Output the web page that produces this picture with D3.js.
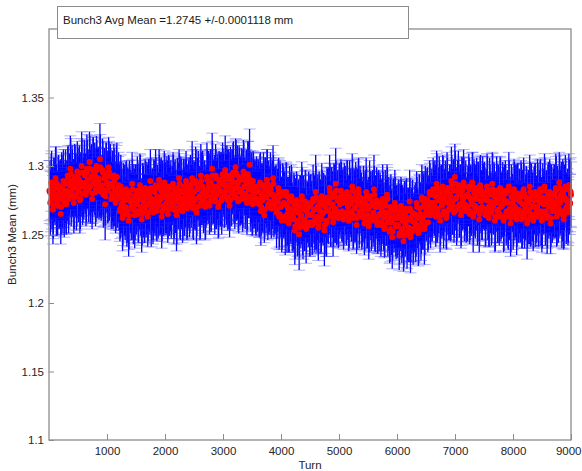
<!DOCTYPE html>
<html>
<head>
<meta charset="utf-8">
<script src="https://cdn.jsdelivr.net/npm/d3@7"></script>
<style>
  body { margin: 0; background: #fff; }
  svg { display: block; }
  text { font-family: Arial, "Liberation Sans", sans-serif; }
</style>
</head>
<body>
<svg id="chart" width="582" height="471"></svg>
<script>
// ---- chart text and axis settings ----
const titleText = "Bunch3 Avg Mean =1.2745 +/-0.0001118 mm";
const xLabel = "Turn";
const yLabel = "Bunch3 Mean (mm)";
const xDomain = [0, 9000];
const yDomain = [1.1, 1.4];
const xTicks = [1000, 2000, 3000, 4000, 5000, 6000, 7000, 8000, 9000];
const yTicks = [1.1, 1.15, 1.2, 1.25, 1.3, 1.35];

// ---- two interleaved sample sets: first turn of each, common spacing ----
const turnStartA = 8;
const turnStartB = 15;
const turnStep = 15;

// ---- bunch 3 mean position, set A (mm) ----
const bunchMeanA = [
  1.282,1.273,1.288,1.277,1.268,1.284,1.279,1.291,1.275,1.271,1.286,1.278,1.281,1.265,1.285,1.276,1.289,1.272,1.280,1.274,
  1.281,1.293,1.276,1.287,1.298,1.279,1.289,1.284,1.273,1.292,1.286,1.278,1.296,1.282,1.290,1.275,1.288,1.300,1.280,1.285,
  1.295,1.287,1.279,1.298,1.290,1.283,1.303,1.285,1.292,1.276,1.297,1.288,1.294,1.281,1.300,1.286,1.291,1.282,1.305,1.284,
  1.284,1.297,1.279,1.291,1.272,1.294,1.287,1.282,1.299,1.285,1.293,1.276,1.287,1.278,1.293,1.282,1.273,1.292,1.276,1.283,
  1.278,1.267,1.285,1.272,1.262,1.280,1.275,1.269,1.283,1.265,1.277,1.260,1.281,1.274,1.270,1.287,1.268,1.276,1.264,1.279,
  1.272,1.282,1.265,1.277,1.286,1.269,1.261,1.280,1.274,1.267,1.284,1.271,1.278,1.263,1.281,1.273,1.289,1.268,1.276,1.266,
  1.282,1.273,1.286,1.267,1.278,1.271,1.290,1.275,1.284,1.263,1.280,1.269,1.288,1.277,1.272,1.283,1.265,1.285,1.274,1.279,
  1.271,1.279,1.287,1.268,1.281,1.274,1.264,1.284,1.278,1.291,1.270,1.282,1.276,1.267,1.285,1.273,1.280,1.289,1.269,1.277,
  1.283,1.272,1.286,1.278,1.291,1.269,1.281,1.275,1.289,1.266,1.284,1.287,1.277,1.271,1.293,1.279,1.285,1.274,1.282,1.270,
  1.278,1.292,1.282,1.287,1.271,1.289,1.276,1.298,1.280,1.285,1.274,1.293,1.279,1.284,1.270,1.290,1.281,1.288,1.275,1.294,
  1.287,1.278,1.297,1.282,1.291,1.275,1.286,1.271,1.293,1.280,1.289,1.295,1.283,1.277,1.299,1.284,1.288,1.274,1.292,1.281,
  1.282,1.291,1.276,1.296,1.285,1.279,1.289,1.273,1.294,1.283,1.301,1.278,1.287,1.274,1.289,1.278,1.284,1.273,1.285,1.276,
  1.282,1.272,1.288,1.267,1.280,1.275,1.286,1.264,1.283,1.277,1.290,1.270,1.281,1.273,1.285,1.269,1.279,1.291,1.274,1.271,
  1.278,1.266,1.275,1.284,1.263,1.279,1.270,1.260,1.281,1.272,1.273,1.260,1.281,1.264,1.269,1.258,1.276,1.267,1.278,1.263,
  1.261,1.273,1.253,1.268,1.275,1.258,1.266,1.250,1.271,1.263,1.278,1.256,1.269,1.260,1.274,1.254,1.267,1.264,1.272,1.257,
  1.273,1.264,1.257,1.276,1.268,1.259,1.281,1.262,1.270,1.255,1.274,1.267,1.261,1.278,1.265,1.272,1.253,1.271,1.258,1.277,
  1.267,1.274,1.284,1.263,1.278,1.271,1.259,1.280,1.268,1.287,1.265,1.275,1.262,1.277,1.272,1.282,1.266,1.273,1.261,1.279,
  1.275,1.264,1.281,1.270,1.260,1.278,1.273,1.266,1.285,1.262,1.276,1.269,1.280,1.257,1.274,1.283,1.265,1.277,1.271,1.263,
  1.267,1.276,1.258,1.273,1.281,1.263,1.268,1.256,1.278,1.271,1.261,1.274,1.265,1.283,1.260,1.270,1.275,1.257,1.272,1.264,
  1.271,1.257,1.268,1.276,1.262,1.254,1.273,1.265,1.279,1.259,1.265,1.252,1.270,1.259,1.248,1.268,1.262,1.273,1.256,1.263,
  1.256,1.267,1.249,1.263,1.271,1.252,1.260,1.245,1.265,1.257,1.269,1.250,1.262,1.254,1.274,1.248,1.261,1.266,1.253,1.259,
  1.265,1.255,1.273,1.262,1.251,1.269,1.264,1.254,1.277,1.261,1.271,1.254,1.276,1.266,1.275,1.259,1.268,1.281,1.264,1.273,
  1.269,1.283,1.272,1.279,1.263,1.287,1.267,1.275,1.282,1.260,1.278,1.271,1.285,1.265,1.276,1.280,1.262,1.284,1.273,1.268,
  1.279,1.269,1.289,1.273,1.283,1.266,1.292,1.276,1.268,1.282,1.286,1.271,1.280,1.264,1.284,1.275,1.288,1.270,1.278,1.267,
  1.269,1.279,1.285,1.265,1.276,1.272,1.288,1.263,1.282,1.270,1.277,1.284,1.267,1.280,1.261,1.286,1.274,1.268,1.281,1.278,
  1.278,1.264,1.276,1.285,1.269,1.262,1.281,1.273,1.266,1.287,1.271,1.279,1.260,1.274,1.282,1.267,1.277,1.263,1.284,1.270,
  1.271,1.279,1.260,1.275,1.282,1.266,1.274,1.263,1.285,1.268,1.258,1.278,1.273,1.264,1.283,1.269,1.277,1.261,1.280,1.267,
  1.275,1.266,1.280,1.261,1.272,1.283,1.264,1.269,1.277,1.258,1.274,1.267,1.285,1.263,1.278,1.270,1.260,1.276,1.281,1.265,
  1.269,1.280,1.263,1.274,1.283,1.266,1.260,1.277,1.272,1.285,1.265,1.275,1.262,1.279,1.270,1.281,1.258,1.276,1.267,1.273,
  1.280,1.270,1.284,1.263,1.276,1.267,1.288,1.273,1.279,1.265,1.282,1.261,1.277,1.285,1.269,1.274,1.266,1.286,1.272,1.281
];

// ---- bunch 3 mean position, set B (mm) ----
const bunchMeanB = [
  1.281,1.274,1.286,1.278,1.271,1.283,1.279,1.288,1.276,1.273,1.284,1.277,1.280,1.270,1.285,1.275,1.282,1.278,1.287,1.272,
  1.282,1.291,1.278,1.286,1.294,1.281,1.288,1.284,1.277,1.290,1.287,1.279,1.293,1.283,1.289,1.276,1.286,1.295,1.280,1.285,
  1.293,1.288,1.282,1.295,1.290,1.284,1.298,1.286,1.291,1.280,1.294,1.287,1.292,1.283,1.297,1.288,1.290,1.285,1.299,1.281,
  1.286,1.295,1.282,1.291,1.278,1.293,1.288,1.284,1.296,1.287,1.292,1.280,1.285,1.278,1.289,1.283,1.276,1.292,1.280,1.286,
  1.277,1.269,1.282,1.273,1.265,1.278,1.275,1.270,1.280,1.267,1.276,1.264,1.279,1.274,1.271,1.283,1.269,1.275,1.267,1.278,
  1.273,1.280,1.267,1.276,1.283,1.270,1.265,1.278,1.274,1.269,1.281,1.272,1.277,1.266,1.279,1.273,1.284,1.270,1.275,1.268,
  1.281,1.274,1.284,1.269,1.277,1.272,1.286,1.276,1.282,1.267,1.279,1.271,1.285,1.278,1.273,1.281,1.268,1.283,1.275,1.278,
  1.272,1.278,1.284,1.270,1.280,1.275,1.267,1.282,1.277,1.287,1.272,1.281,1.276,1.269,1.283,1.274,1.279,1.286,1.271,1.278,
  1.282,1.274,1.284,1.279,1.288,1.272,1.281,1.276,1.287,1.270,1.283,1.285,1.278,1.273,1.289,1.280,1.284,1.275,1.281,1.272,
  1.279,1.290,1.283,1.286,1.274,1.288,1.278,1.293,1.281,1.284,1.276,1.291,1.280,1.285,1.273,1.288,1.282,1.287,1.277,1.291,
  1.286,1.280,1.294,1.283,1.290,1.277,1.285,1.275,1.291,1.281,1.288,1.293,1.284,1.279,1.295,1.284,1.287,1.276,1.290,1.282,
  1.283,1.290,1.278,1.293,1.285,1.280,1.288,1.276,1.292,1.284,1.290,1.275,1.282,1.272,1.285,1.276,1.281,1.273,1.283,1.276,
  1.281,1.273,1.286,1.270,1.279,1.276,1.284,1.268,1.282,1.278,1.287,1.272,1.280,1.274,1.283,1.271,1.279,1.287,1.275,1.273,
  1.277,1.268,1.274,1.281,1.265,1.278,1.271,1.263,1.279,1.273,1.272,1.262,1.278,1.265,1.270,1.261,1.274,1.268,1.276,1.264,
  1.262,1.271,1.256,1.267,1.273,1.260,1.266,1.255,1.270,1.264,1.275,1.258,1.268,1.261,1.272,1.257,1.266,1.265,1.270,1.259,
  1.272,1.265,1.259,1.274,1.268,1.261,1.277,1.263,1.270,1.258,1.272,1.267,1.262,1.275,1.266,1.271,1.257,1.270,1.260,1.275,
  1.268,1.273,1.281,1.265,1.277,1.272,1.262,1.278,1.269,1.282,1.267,1.275,1.264,1.276,1.273,1.279,1.267,1.274,1.264,1.277,
  1.274,1.266,1.279,1.271,1.263,1.277,1.273,1.267,1.282,1.264,1.275,1.270,1.278,1.262,1.273,1.280,1.267,1.276,1.272,1.265,
  1.268,1.274,1.261,1.272,1.278,1.264,1.269,1.259,1.276,1.271,1.263,1.273,1.266,1.279,1.262,1.270,1.274,1.260,1.271,1.265,
  1.270,1.259,1.267,1.274,1.263,1.257,1.271,1.266,1.276,1.261,1.264,1.254,1.268,1.260,1.252,1.267,1.263,1.270,1.257,1.262,
  1.257,1.265,1.251,1.262,1.268,1.254,1.260,1.249,1.264,1.258,1.267,1.252,1.261,1.255,1.269,1.251,1.260,1.264,1.254,1.259,
  1.264,1.257,1.270,1.262,1.254,1.269,1.265,1.258,1.275,1.263,1.270,1.257,1.273,1.267,1.275,1.264,1.270,1.279,1.266,1.273,
  1.270,1.281,1.273,1.278,1.266,1.284,1.269,1.275,1.280,1.264,1.277,1.272,1.282,1.267,1.275,1.279,1.265,1.282,1.274,1.269,
  1.278,1.271,1.286,1.274,1.282,1.269,1.287,1.277,1.270,1.281,1.284,1.272,1.279,1.267,1.282,1.276,1.285,1.272,1.278,1.269,
  1.270,1.278,1.283,1.267,1.276,1.273,1.285,1.266,1.280,1.271,1.276,1.282,1.269,1.279,1.265,1.283,1.275,1.270,1.280,1.277,
  1.277,1.266,1.275,1.282,1.270,1.265,1.279,1.274,1.268,1.283,1.272,1.278,1.263,1.273,1.280,1.268,1.276,1.265,1.281,1.271,
  1.272,1.278,1.263,1.274,1.280,1.267,1.273,1.265,1.282,1.269,1.262,1.277,1.273,1.266,1.280,1.270,1.276,1.264,1.278,1.268,
  1.274,1.267,1.278,1.263,1.272,1.280,1.266,1.270,1.276,1.261,1.273,1.268,1.281,1.265,1.276,1.271,1.262,1.275,1.279,1.266,
  1.270,1.278,1.265,1.273,1.281,1.267,1.263,1.276,1.272,1.282,1.267,1.274,1.264,1.277,1.271,1.279,1.262,1.275,1.268,1.273,
  1.279,1.271,1.282,1.266,1.275,1.269,1.284,1.274,1.278,1.267,1.280,1.264,1.276,1.283,1.270,1.275,1.268,1.283,1.273,1.279
];

// ---- half-length of each error bar, set A (micrometres) ----
const bunchErrUmA = [
  22,24,21,23,25,22,20,23,26,22,21,24,23,22,25,21,23,24,22,23,
  23,21,25,22,24,23,26,21,22,24,23,25,22,20,23,24,22,25,23,21,
  24,22,23,25,21,24,22,27,23,22,24,21,23,25,22,24,23,21,26,22,
  21,23,24,22,26,23,21,24,22,25,23,22,20,24,23,26,22,23,21,24,
  25,22,23,21,24,22,25,23,20,24,22,26,23,21,24,23,22,25,24,22,
  22,25,21,24,23,20,24,22,26,23,21,23,25,22,24,21,23,27,22,23,
  23,22,26,21,23,24,22,25,21,23,24,20,23,26,22,24,21,23,25,22,
  24,21,23,25,22,23,26,22,24,21,23,25,22,23,20,24,25,22,23,24,
  21,24,22,23,27,22,23,21,25,23,22,24,21,25,23,22,26,23,21,24,
  23,25,22,24,21,23,24,26,22,20,24,23,25,22,23,21,24,22,25,23,
  22,23,25,21,24,22,26,23,21,24,23,22,25,23,21,24,27,22,23,25,
  25,22,24,23,20,25,22,23,24,21,26,22,23,25,22,24,21,23,22,24,
  23,24,21,25,22,23,24,20,23,26,22,24,23,21,25,22,23,24,26,21,
  22,26,23,21,24,25,22,23,21,24,23,25,22,27,23,21,24,22,23,25,
  24,22,25,23,21,24,23,26,22,23,25,21,24,22,23,25,22,20,24,23,
  21,23,22,25,24,22,27,23,21,24,22,23,25,24,21,23,26,22,24,22,
  23,25,24,22,21,23,25,22,24,26,23,21,22,24,25,23,21,24,22,23,
  25,21,23,24,22,26,23,21,24,23,22,25,23,21,24,22,25,23,20,24,
  22,24,23,21,25,23,22,24,26,22,23,21,24,25,22,23,24,21,23,26,
  24,23,22,25,23,21,24,23,22,25,27,23,21,24,23,22,25,24,22,23,
  23,22,25,24,21,23,26,22,24,23,21,25,22,24,23,26,22,23,25,21,
  21,25,23,22,24,25,21,23,24,22,23,26,24,21,23,22,25,23,24,22,
  24,23,21,25,22,24,23,20,25,23,22,24,23,25,21,24,22,26,23,22,
  22,24,25,23,21,22,24,23,26,22,25,23,21,24,23,22,24,25,22,23,
  23,21,24,22,25,23,22,26,23,21,24,22,25,23,24,21,23,22,26,24,
  25,23,22,24,23,21,25,22,24,23,20,24,23,22,25,23,24,21,23,25,
  22,24,23,26,22,24,21,23,25,22,24,23,21,25,22,23,24,26,22,23,
  23,22,24,21,25,23,24,22,23,26,21,24,23,22,24,25,22,23,21,24,
  24,25,22,23,21,24,23,25,22,24,23,21,26,22,23,24,22,25,23,22,
  21,23,25,22,24,23,22,24,21,25,23,22,24,23,26,21,24,23,22,25
];

// ---- half-length of each error bar, set B (micrometres) ----
const bunchErrUmB = [
  23,22,25,21,24,23,22,26,21,23,24,22,25,20,23,24,22,23,25,22,
  22,24,21,23,26,22,24,21,23,25,22,23,21,24,26,22,23,25,21,24,
  25,21,23,24,22,20,24,23,25,22,27,23,21,24,22,25,23,22,24,21,
  22,23,26,22,21,24,23,25,22,24,21,23,26,22,24,20,23,25,22,24,
  24,22,21,25,23,22,26,21,24,23,22,25,21,23,24,22,26,23,21,23,
  21,24,23,22,25,21,23,24,20,25,23,22,24,21,26,23,22,24,23,22,
  23,25,22,24,21,23,22,26,24,22,23,21,24,25,22,23,21,24,22,26,
  22,21,24,23,25,22,24,21,23,22,26,24,21,23,22,25,23,20,24,23,
  24,23,22,21,24,26,22,23,25,21,23,24,22,26,21,23,24,22,23,25,
  21,22,25,23,22,24,21,25,23,24,22,21,23,24,25,22,26,23,21,22,
  23,24,21,26,22,23,25,22,21,24,23,25,22,21,24,23,22,25,23,24,
  25,22,23,24,21,22,24,23,26,22,21,23,24,22,25,21,23,24,22,23,
  22,25,24,21,23,25,22,21,24,23,25,22,20,24,23,22,25,21,24,22,
  24,21,22,25,24,23,21,24,22,26,23,21,24,23,22,24,21,25,23,22,
  23,22,24,23,21,25,24,22,23,21,24,26,22,23,25,21,22,24,23,25,
  22,24,23,21,25,22,23,26,24,22,21,23,25,22,24,23,21,22,26,23,
  25,23,21,24,22,24,21,23,25,22,24,22,23,26,21,24,23,25,22,21,
  21,24,25,22,23,21,25,22,23,24,22,25,21,23,22,26,24,21,23,24,
  24,22,23,25,21,24,23,22,20,25,23,24,22,21,25,23,22,24,26,22,
  23,21,24,22,25,23,22,24,23,21,22,24,26,23,21,24,23,22,25,24,
  22,25,23,24,22,21,24,23,25,22,24,21,23,25,22,21,24,26,23,22,
  24,23,22,21,25,24,23,22,21,24,26,22,23,21,24,25,22,23,21,25,
  21,22,24,23,22,25,21,24,23,22,24,23,25,21,23,22,26,24,22,23,
  23,25,22,24,23,21,24,22,25,23,21,24,22,25,24,22,21,23,26,22,
  25,22,23,21,24,22,25,23,22,24,23,21,24,22,23,25,22,24,21,23,
  22,24,21,25,23,24,22,21,24,26,22,23,25,21,22,24,23,21,25,24,
  24,21,25,22,21,23,24,26,22,23,25,22,21,24,23,22,25,23,24,21,
  23,22,24,23,25,22,21,24,23,21,24,25,22,23,21,24,22,25,23,22,
  21,24,23,22,24,25,23,22,21,24,22,23,24,26,22,23,21,24,22,25,
  22,23,25,24,22,21,24,23,25,22,23,24,21,22,25,23,24,22,21,24
];

// ---- build the point table from both sample sets ----
function samples(means, errsUm, start) {
  const n = Math.min(means.length, errsUm.length);
  return d3.range(n).map(i => ({
    turn: start + i * turnStep,
    mean: means[i],
    err: errsUm[i] / 1000
  }));
}
const points = samples(bunchMeanA, bunchErrUmA, turnStartA)
  .concat(samples(bunchMeanB, bunchErrUmB, turnStartB))
  .sort((a, b) => a.turn - b.turn);

// ---- layout ----
const plot = { left: 49, right: 571, top: 29, bottom: 440 };
const axisColor = "#8c8c8c";
const labelColor = "#262626";
const fontSize = 11.5;

const svg = d3.select("#chart");

const x = d3.scaleLinear().domain(xDomain).range([plot.left, plot.right]);
const y = d3.scaleLinear().domain(yDomain).range([plot.bottom, plot.top]);

// ---- error bars (blue) ----
const capHalf = 6;
const bars = svg.append("g").attr("class", "errorbars");

bars.selectAll("line.stem")
  .data(points)
  .join("line")
  .attr("class", "stem")
  .attr("x1", d => x(d.turn)).attr("x2", d => x(d.turn))
  .attr("y1", d => y(d.mean - d.err)).attr("y2", d => y(d.mean + d.err))
  .attr("stroke", "#0000ff")
  .attr("stroke-width", 1.3);

const caps = points.flatMap(d => [
  { turn: d.turn, v: d.mean + d.err },
  { turn: d.turn, v: d.mean - d.err }
]);
bars.selectAll("line.cap")
  .data(caps)
  .join("line")
  .attr("class", "cap")
  .attr("x1", d => x(d.turn) - capHalf).attr("x2", d => x(d.turn) + capHalf)
  .attr("y1", d => y(d.v)).attr("y2", d => y(d.v))
  .attr("stroke", "#2020ff")
  .attr("stroke-width", 1)
  .attr("stroke-opacity", 0.35);

// ---- mean markers (red) ----
svg.append("g").attr("class", "means")
  .selectAll("circle")
  .data(points)
  .join("circle")
  .attr("cx", d => x(d.turn))
  .attr("cy", d => y(d.mean))
  .attr("r", 3)
  .attr("fill", "#ff0000");

// ---- axes ----
const yAxis = d3.axisLeft(y)
  .tickValues(yTicks)
  .tickFormat(d => String(+d.toFixed(2)))
  .tickSizeInner(-5)
  .tickSizeOuter(0)
  .tickPadding(5);

const xAxis = d3.axisBottom(x)
  .tickValues(xTicks)
  .tickFormat(d3.format("d"))
  .tickSizeInner(-6)
  .tickSizeOuter(0)
  .tickPadding(7);

function styleAxis(g) {
  g.select(".domain").remove();
  g.selectAll(".tick line").attr("stroke", axisColor);
  g.selectAll(".tick text")
    .attr("fill", labelColor)
    .style("font-size", fontSize + "px")
    .style("font-family", "Arial, 'Liberation Sans', sans-serif");
}

svg.append("g")
  .attr("transform", `translate(${plot.left},0)`)
  .call(yAxis)
  .call(styleAxis);

const xAxisG = svg.append("g")
  .attr("transform", `translate(0,${plot.bottom})`)
  .call(xAxis)
  .call(styleAxis);

// keep the last tick label inside the page edge
xAxisG.selectAll(".tick text")
  .filter(d => d === xDomain[1])
  .attr("text-anchor", "end")
  .attr("x", 581 - x(xDomain[1]));

// axes box
svg.append("rect")
  .attr("x", plot.left).attr("y", plot.top)
  .attr("width", plot.right - plot.left)
  .attr("height", plot.bottom - plot.top)
  .attr("fill", "none")
  .attr("stroke", axisColor)
  .attr("stroke-width", 1.3);

// ---- axis labels ----
svg.append("text")
  .attr("x", (plot.left + plot.right) / 2)
  .attr("y", 469)
  .attr("text-anchor", "middle")
  .attr("fill", labelColor)
  .style("font-size", fontSize + "px")
  .text(xLabel);

svg.append("text")
  .attr("transform", `translate(16,${(plot.top + plot.bottom) / 2}) rotate(-90)`)
  .attr("text-anchor", "middle")
  .attr("fill", labelColor)
  .style("font-size", fontSize + "px")
  .text(yLabel);

// ---- title box ----
svg.append("rect")
  .attr("x", 57.5).attr("y", 6.5)
  .attr("width", 351).attr("height", 32)
  .attr("fill", "#fff")
  .attr("stroke", "#8c8c8c")
  .attr("stroke-width", 1);

svg.append("text")
  .attr("x", 63)
  .attr("y", 23.5)
  .attr("fill", "#1a1a1a")
  .style("font-size", fontSize + "px")
  .text(titleText);
</script>
</body>
</html>
